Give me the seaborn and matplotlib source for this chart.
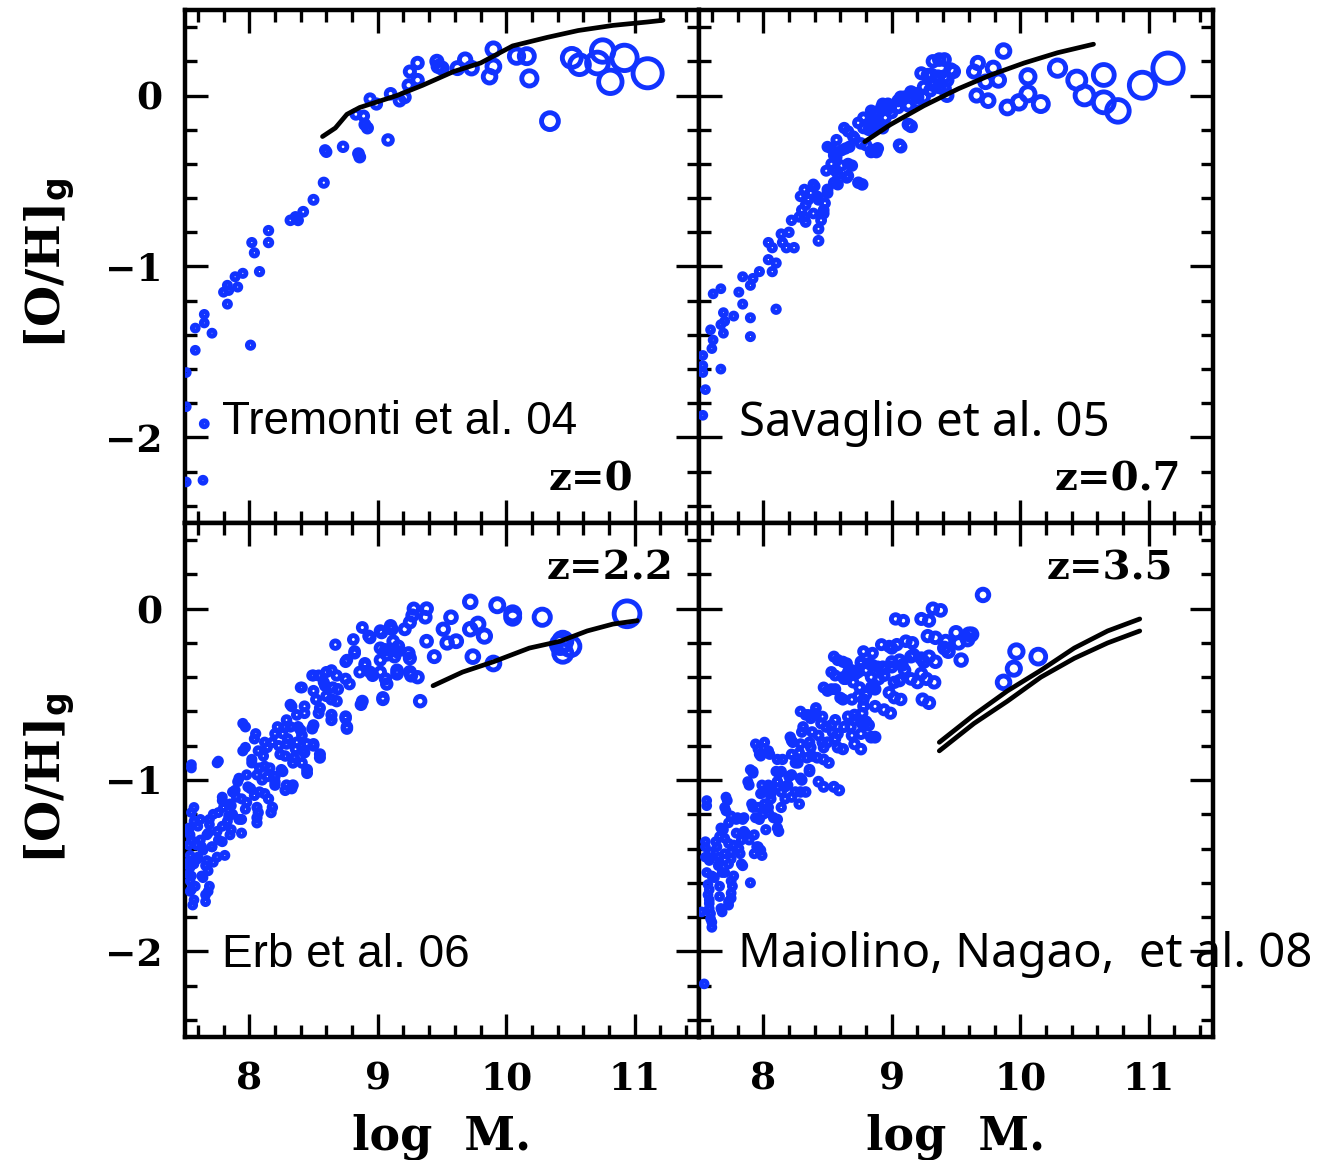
import numpy as np
import pandas as pd
import matplotlib
matplotlib.use("Agg")
import matplotlib.pyplot as plt
from matplotlib.ticker import MultipleLocator
import seaborn as sns

# ---------------- data ----------------
tremonti_pts = [(7.51,-1.62),(7.51,-1.82),(7.65,-1.92),(7.51,-2.26),(7.64,-2.25),(7.58,-1.36),(7.58,-1.49),
    (7.65,-1.28),(7.65,-1.33),(7.71,-1.39),(7.80,-1.15),(7.83,-1.11),(7.84,-1.14),(7.83,-1.22),(7.89,-1.06),
    (7.91,-1.12),(7.95,-1.04),(8.01,-1.46),(8.02,-0.86),(8.04,-0.92),(8.08,-1.03),(8.15,-0.79),(8.15,-0.86),
    (8.32,-0.73),(8.36,-0.71),(8.38,-0.73),(8.42,-0.68),(8.50,-0.61),(8.58,-0.51),(8.59,-0.32),(8.60,-0.33),
    (8.73,-0.30),(8.85,-0.34),(8.86,-0.36),(9.08,-0.26),(8.83,-0.11),(8.89,-0.12),(8.90,-0.17),(8.92,-0.19),
    (8.94,-0.02),(8.99,-0.05),(9.10,0.01),(9.17,-0.03),(9.21,-0.01),(9.24,0.06),(9.25,0.14),(9.31,0.19),
    (9.31,0.09),(9.46,0.20),(9.47,0.17),(9.50,0.16),(9.62,0.16),(9.68,0.21),(9.73,0.16),(9.87,0.11),
    (9.90,0.17),(9.90,0.27),(10.08,0.23),(10.16,0.23),(10.18,0.10),(10.34,-0.15),(10.51,0.22),(10.57,0.18),
    (10.71,0.19),(10.75,0.26),(10.81,0.08),(10.92,0.22),(11.10,0.13)]
tremonti_line_x = [8.57, 8.67, 8.76, 8.86, 9.15, 9.35, 9.59, 9.80, 10.05, 10.32, 10.56, 10.83, 11.10, 11.22]
tremonti_line_y = [-0.24, -0.19, -0.11, -0.07, 0.00, 0.06, 0.14, 0.19, 0.29, 0.34, 0.38, 0.41, 0.43, 0.44]

savaglio_pts = [(9.87,0.26),(9.67,0.19),(9.64,0.14),(9.79,0.16),(9.73,0.08),(9.83,0.09),(9.66,0.00),(9.75,-0.03),
    (9.90,-0.07),(9.99,-0.04),(10.06,0.11),(10.06,0.01),(10.16,-0.05),(10.29,0.16),(10.44,0.09),(10.50,0.00),
    (10.65,0.12),(10.65,-0.04),(10.76,-0.09),(10.95,0.06),(11.15,0.16),
    (9.32,0.20),(9.37,0.21),(9.46,0.15),(9.41,0.11),(9.37,0.05),(9.31,0.12),(9.23,0.13),(9.25,0.05),(9.15,0.02),
    (9.10,-0.01),(9.20,-0.01),(9.05,-0.03),(8.99,-0.07),(9.13,-0.17),(9.06,-0.29),(8.93,-0.05),(8.89,-0.11),
    (8.84,-0.09),(8.78,-0.13),(8.88,-0.16),(8.74,-0.16),(8.82,-0.20),(8.76,-0.28),(8.85,-0.32),(8.63,-0.19),
    (8.70,-0.24),(8.57,-0.26),(8.50,-0.30),(8.64,-0.31),(8.55,-0.35),(8.66,-0.40),(8.53,-0.40),(8.49,-0.44),
    (8.58,-0.46),(8.66,-0.47),(8.74,-0.51),(8.55,-0.51),(8.50,-0.55),(8.39,-0.52),(8.37,-0.57),(8.43,-0.61),
    (8.29,-0.59),(8.33,-0.64),(8.47,-0.67),(8.28,-0.71),(8.33,-0.74),(8.45,-0.73),(8.22,-0.73),(8.43,-0.78),
    (8.43,-0.85),(8.20,-0.80),(8.14,-0.81),(8.15,-0.86),(8.18,-0.89),(8.24,-0.89),(8.04,-0.86),(8.07,-0.89),
    (8.04,-0.96),(8.10,-0.98),(8.07,-1.03),(7.97,-1.03),(7.92,-1.07),(7.84,-1.06),(7.90,-1.11),(7.81,-1.15),
    (7.84,-1.22),(8.10,-1.25),(7.90,-1.30),(7.90,-1.41),(7.77,-1.29),(7.69,-1.27),(7.70,-1.32),(7.67,-1.34),
    (7.69,-1.39),(7.61,-1.16),(7.67,-1.13),(7.59,-1.37),(7.61,-1.43),(7.60,-1.48),(7.67,-1.60),(7.53,-1.52),
    (7.53,-1.58),(7.53,-1.62),(7.55,-1.72),(7.53,-1.87),
    (9.41,0.21),(9.48,0.14),(9.43,0.09),(9.36,0.11),(9.28,0.12),(9.33,0.06),(9.41,0.04),(9.43,0.00),
    (9.30,0.03),(9.25,-0.01),(9.18,0.01),(9.07,-0.01),(9.20,-0.04),(9.13,-0.06),(9.15,-0.18),(9.07,-0.30),
    (9.05,-0.07),(8.97,-0.05),(9.00,-0.10),(8.92,-0.07),(8.95,-0.13),(8.87,-0.10),(8.85,-0.15),(8.90,-0.17),
    (8.93,-0.19),(8.78,-0.19),(8.85,-0.20),(8.80,-0.29),(8.88,-0.33),(8.66,-0.21),(8.71,-0.25),(8.53,-0.31),
    (8.61,-0.32),(8.67,-0.30),(8.57,-0.36),(8.61,-0.41),(8.69,-0.41),(8.56,-0.44),(8.65,-0.48),(8.77,-0.52),
    (8.50,-0.57),(8.58,-0.52),(8.40,-0.53),(8.42,-0.59),(8.48,-0.63),(8.32,-0.55),(8.35,-0.61),(8.30,-0.67),
    (8.39,-0.69),(8.47,-0.69),(8.32,-0.71),(8.84,-0.33),(8.89,-0.31)]
savaglio_line_x = [8.79, 8.99, 9.25, 9.52, 9.77, 10.03, 10.29, 10.57]
savaglio_line_y = [-0.27, -0.17, -0.06, 0.04, 0.12, 0.19, 0.25, 0.30]

erb_pts = [(10.94,-0.03),(10.44,-0.19),(10.50,-0.22),(10.44,-0.26),(10.42,-0.21),(10.28,-0.05),(10.05,-0.05),
    (10.05,-0.03),(9.93,0.02),(9.72,0.04),(9.57,-0.05),(9.78,-0.09),(9.72,-0.12),(9.83,-0.16),(9.61,-0.19),
    (9.74,-0.28),(9.90,-0.32),(9.44,-0.28),(9.38,-0.19),(9.51,-0.12),(9.54,-0.20),(9.33,-0.54),(9.31,-0.40),
    (9.25,-0.37),
    (9.38,0.00),(9.28,0.00),(9.27,-0.04),(9.37,-0.05),(9.25,-0.08),(9.10,-0.10),(9.02,-0.13),(8.88,-0.11),
    (8.94,-0.17),(8.81,-0.18),(9.12,-0.19),(9.02,-0.23),(9.15,-0.25),(9.07,-0.27),(9.25,-0.29),(8.67,-0.21),
    (8.82,-0.25),(8.76,-0.30),(8.90,-0.33),(8.86,-0.37),(9.02,-0.37),(8.96,-0.39),(9.15,-0.36),(9.07,-0.44),
    (9.04,-0.52),(8.88,-0.54),(8.60,-0.37),(8.50,-0.39),(8.68,-0.39),(8.58,-0.43),(8.65,-0.46),(8.78,-0.44),
    (8.40,-0.46),(8.50,-0.48),(8.60,-0.51),(8.68,-0.54),(8.32,-0.56),(8.43,-0.57),(8.55,-0.58),(8.64,-0.62),
    (8.75,-0.63),(8.76,-0.69),(8.37,-0.62),(8.50,-0.68),(8.29,-0.65),(8.22,-0.69),(8.32,-0.69),(8.40,-0.71),
    (8.26,-0.73),(8.18,-0.78),(8.29,-0.79),(8.37,-0.78),(8.45,-0.79),(8.50,-0.79),(8.55,-0.85),(8.42,-0.83),
    (8.35,-0.87),(8.24,-0.85),(8.14,-0.81),(8.11,-0.86),(8.16,-0.93),(8.26,-0.95),(8.08,-0.93),(8.06,-0.97),
    (8.14,-0.98),(8.20,-1.01),(8.29,-1.03),(8.34,-1.03),(8.45,-0.94),(8.02,-0.88),(7.97,-0.81),(7.95,-0.67),
    (8.05,-0.73),(7.98,-0.97),(7.91,-1.01),(8.01,-1.05),(8.08,-1.07),(8.15,-1.11),(8.18,-1.16),(7.87,-1.07),
    (7.90,-1.10),(7.98,-1.13),(8.06,-1.16),(8.06,-1.22),(7.94,-1.23),(7.85,-1.14),(7.80,-1.16),(7.79,-1.10),
    (7.87,-1.20),(7.83,-1.24),(7.76,-0.89),(7.55,-0.91),(7.72,-1.20),(7.69,-1.26),(7.75,-1.30),(7.85,-1.32),
    (7.79,-1.36),(7.67,-1.32),(7.62,-1.35),(7.71,-1.39),(7.64,-1.41),(7.75,-1.45),(7.67,-1.47),(7.60,-1.45),
    (7.57,-1.49),(7.68,-1.53),(7.64,-1.57),(7.69,-1.62),(7.66,-1.67),(7.57,-1.70),(7.54,-1.65),(7.54,-1.59),
    (7.53,-1.55),(7.54,-1.51),(7.53,-1.48),(7.54,-1.44),(7.53,-1.38),(7.54,-1.32),(7.53,-1.28),(7.57,-1.24),
    (7.57,-1.16),(7.62,-1.23),(7.59,-1.38),(7.58,-1.62),
    (8.93,-0.16),(9.03,-0.14),(9.11,-0.12),(9.21,-0.12),(9.06,-0.24),(9.16,-0.22),(9.02,-0.30),(9.13,-0.28),
    (9.24,-0.26),(8.75,-0.31),(8.82,-0.26),(8.90,-0.32),(8.94,-0.37),(9.06,-0.41),(9.15,-0.38),(9.26,-0.39),
    (8.87,-0.56),(9.04,-0.53),(8.75,-0.41),(8.64,-0.36),(8.54,-0.39),(8.49,-0.39),(8.59,-0.45),(8.69,-0.47),
    (8.41,-0.46),(8.52,-0.53),(8.64,-0.53),(8.75,-0.64),(8.76,-0.70),(8.33,-0.57),(8.43,-0.61),(8.54,-0.61),
    (8.64,-0.65),(8.49,-0.70),(7.97,-0.69),(8.28,-0.69),(8.38,-0.69),(8.20,-0.73),(8.30,-0.76),(8.41,-0.74),
    (8.50,-0.80),(8.55,-0.87),(8.12,-0.78),(8.23,-0.80),(8.36,-0.82),(8.43,-0.84),(8.04,-0.76),(7.95,-0.83),
    (8.07,-0.83),(8.28,-0.86),(8.34,-0.90),(8.41,-0.90),(8.45,-0.96),(8.25,-0.94),(8.20,-0.98),(8.12,-0.92),
    (8.02,-0.90),(7.75,-0.90),(7.55,-0.93),(7.92,-0.99),(8.10,-1.00),(7.99,-1.04),(7.89,-1.06),(8.28,-1.06),
    (8.33,-1.05),(8.20,-1.03),(8.12,-1.08),(8.04,-1.09),(7.94,-1.11),(7.79,-1.12),(7.86,-1.15),(7.97,-1.17),
    (8.07,-1.19),(8.17,-1.19),(7.84,-1.21),(7.76,-1.19),(7.69,-1.23),(7.92,-1.23),(8.06,-1.25),(7.55,-1.19),
    (7.79,-1.27),(7.86,-1.29),(7.94,-1.31),(7.60,-1.27),(7.53,-1.29),(7.68,-1.31),(7.76,-1.35),(7.55,-1.35),
    (7.63,-1.39),(7.71,-1.39),(7.81,-1.44),(7.60,-1.46),(7.72,-1.48),(7.54,-1.48),(7.66,-1.50),(7.55,-1.56),
    (7.63,-1.56),(7.68,-1.65),(7.55,-1.64),(7.56,-1.73),(7.66,-1.71)]
erb_line_x = [9.43, 9.66, 9.90, 10.18, 10.42, 10.63, 10.83, 11.02]
erb_line_y = [-0.45, -0.37, -0.31, -0.23, -0.19, -0.13, -0.09, -0.07]

maiolino_pts = [(9.97,-0.25),(10.14,-0.28),(9.95,-0.35),(9.87,-0.43),(9.71,0.08),(9.50,-0.14),(9.60,-0.15),
    (9.54,-0.30),(9.44,-0.25),(9.52,-0.20),(9.28,-0.16),(9.29,-0.28),(9.27,-0.41),(9.24,-0.53),(9.23,-0.38),
    (9.32,0.00),(9.23,-0.06),(9.03,-0.06),(9.11,-0.19),(9.00,-0.23),(8.92,-0.21),(9.00,-0.31),(8.89,-0.34),
    (9.00,-0.34),(8.94,-0.39),(9.02,-0.43),(9.15,-0.41),(9.10,-0.36),(8.78,-0.25),(8.76,-0.31),(8.84,-0.40),
    (8.55,-0.28),(8.62,-0.31),(8.66,-0.37),(8.74,-0.37),(8.63,-0.41),(8.70,-0.43),(8.53,-0.37),(8.47,-0.46),
    (8.53,-0.47),(8.60,-0.52),(8.74,-0.51),(8.84,-0.46),(9.02,-0.52),(8.94,-0.59),(8.78,-0.57),(8.71,-0.62),
    (8.66,-0.63),(8.80,-0.66),(8.76,-0.73),(8.84,-0.75),(8.71,-0.79),(8.58,-0.73),(8.53,-0.68),(8.45,-0.67),
    (8.40,-0.61),(8.37,-0.64),(8.29,-0.60),(8.31,-0.69),(8.43,-0.74),(8.50,-0.78),(8.58,-0.81),(8.47,-0.81),
    (8.37,-0.81),(8.29,-0.79),(8.22,-0.85),(8.27,-0.90),(8.34,-0.87),(8.42,-0.87),(8.47,-0.88),(8.36,-0.95),
    (8.29,-0.99),(8.22,-0.97),(8.14,-0.95),(8.10,-0.95),(8.11,-1.01),(8.19,-1.03),(8.29,-1.07),(8.22,-1.10),
    (8.14,-1.07),(8.06,-1.04),(8.04,-1.03),(8.01,-1.07),(8.06,-1.08),(8.14,-1.16),(8.04,-1.16),(7.96,-1.16),
    (7.91,-1.14),(8.00,-1.20),(8.08,-1.22),(8.11,-1.28),(7.97,-1.23),(7.85,-1.22),(7.80,-1.22),(7.75,-1.21),
    (7.85,-1.30),(7.93,-1.32),(7.96,-1.39),(7.93,-1.43),(7.98,-1.41),(7.83,-1.35),(7.77,-1.38),(7.75,-1.42),
    (7.82,-1.43),(7.83,-1.49),(7.70,-1.34),(7.67,-1.28),(7.63,-1.36),(7.70,-1.43),(7.65,-1.45),(7.73,-1.49),
    (7.59,-1.42),(7.58,-1.47),(7.65,-1.50),(7.70,-1.54),(7.62,-1.57),(7.75,-1.59),(7.75,-1.66),(7.73,-1.71),
    (7.67,-1.75),(7.57,-1.61),(7.57,-1.67),(7.58,-1.72),(7.59,-1.78),(7.60,-1.83),(7.56,-1.54),(7.55,-1.45),
    (7.55,-1.36),(7.56,-1.12),(7.70,-1.16),(7.71,-1.10),(7.88,-1.01),(7.92,-0.95),(7.99,-1.03),(7.90,-0.94),
    (7.94,-0.79),(7.97,-0.85),(8.04,-0.83),(8.11,-0.88),(8.22,-0.77),(8.21,-0.75),(8.43,-1.01),(8.55,-1.04),
    (8.63,-0.69),(8.68,-0.69),(8.77,-0.67),(8.41,-0.58),(8.35,-0.62),(8.93,-0.34),(8.85,-0.33),(8.76,-0.32),
    (8.69,-0.36),(8.62,-0.40),(8.75,-0.46),(8.80,-0.50),(8.87,-0.47),(9.15,-0.28),(9.08,-0.33),(9.23,-0.29),
    (9.25,-0.31),(9.41,-0.23),(9.42,-0.19),(9.59,-0.18),(9.62,-0.15),(7.54,-2.19),(7.52,-1.77),
    (9.38,-0.01),(9.09,-0.07),(9.29,-0.07),(9.34,-0.17),(8.98,-0.22),(9.04,-0.21),(9.16,-0.20),(9.17,-0.27),
    (8.85,-0.26),(8.82,-0.32),(8.94,-0.35),(9.06,-0.30),(9.06,-0.42),(9.20,-0.43),(9.33,-0.43),(9.34,-0.31),
    (9.29,-0.55),(8.58,-0.30),(8.65,-0.32),(8.72,-0.38),(8.80,-0.36),(8.90,-0.41),(8.98,-0.49),(9.07,-0.53),
    (8.99,-0.61),(8.56,-0.39),(8.64,-0.41),(8.50,-0.48),(8.56,-0.47),(8.62,-0.53),(8.69,-0.53),(8.78,-0.53),
    (8.87,-0.57),(8.77,-0.61),(8.82,-0.68),(8.87,-0.75),(8.76,-0.82),(8.69,-0.74),(8.62,-0.82),(8.71,-0.65),
    (8.56,-0.65),(8.46,-0.63),(8.41,-0.62),(8.33,-0.62),(8.49,-0.69),(8.54,-0.72),(8.38,-0.72),(8.30,-0.72),
    (8.23,-0.78),(8.36,-0.78),(8.46,-0.78),(8.56,-0.76),(8.51,-0.90),(8.28,-0.84),(8.38,-0.86),(8.15,-0.88),
    (8.25,-0.90),(8.36,-0.94),(8.12,-0.96),(8.20,-0.98),(8.30,-1.00),(8.11,-1.01),(8.47,-1.04),(8.59,-1.06),
    (8.01,-0.78),(7.96,-0.82),(7.98,-0.86),(8.05,-0.85),(7.92,-0.96),(7.89,-1.03),(7.98,-1.08),(8.07,-1.06),
    (8.17,-1.04),(8.25,-1.07),(8.33,-1.07),(8.28,-1.14),(8.17,-1.11),(8.06,-1.11),(8.01,-1.14),(7.92,-1.16),
    (7.94,-1.22),(8.04,-1.19),(8.11,-1.23),(8.12,-1.30),(8.02,-1.29),(7.84,-1.23),(7.79,-1.23),(7.72,-1.12),
    (7.71,-1.18),(7.73,-1.25),(7.69,-1.29),(7.79,-1.31),(7.86,-1.31),(7.95,-1.39),(7.99,-1.44),(7.89,-1.35),
    (7.81,-1.40),(7.73,-1.37),(7.66,-1.33),(7.64,-1.39),(7.55,-1.39),(7.56,-1.15),(7.58,-1.46),(7.66,-1.48),
    (7.75,-1.46),(7.84,-1.50),(7.77,-1.56),(7.68,-1.54),(7.60,-1.56),(7.76,-1.62),(7.66,-1.62),(7.58,-1.64),
    (7.90,-1.60),(7.75,-1.69),(7.66,-1.68),(7.58,-1.70),(7.73,-1.73),(7.58,-1.75),(7.68,-1.77),(7.59,-1.81),
    (7.60,-1.86)]
maiolino_line1_x = [9.37, 9.64, 9.90, 10.16, 10.42, 10.68, 10.93]
maiolino_line1_y = [-0.78, -0.62, -0.48, -0.36, -0.23, -0.13, -0.06]
maiolino_line2_x = [9.37, 9.64, 9.90, 10.16, 10.42, 10.68, 10.93]
maiolino_line2_y = [-0.83, -0.67, -0.54, -0.40, -0.29, -0.20, -0.13]

survey_labels = ["Tremonti et al. 04", "Savaglio et al. 05", "Erb et al. 06", "Maiolino, Nagao,  et al. 08"]
redshift_labels = ["z=0", "z=0.7", "z=2.2", "z=3.5"]
x_ticks = [8, 9, 10, 11]
y_ticks = [-2, -1, 0]

# ---------------- style ----------------
sns.set_style("ticks")
plt.rcParams["font.family"] = ["DejaVu Serif", "DejaVu Sans"]
for key in ("text.color", "axes.labelcolor", "xtick.color", "ytick.color", "axes.edgecolor"):
    plt.rcParams[key] = "black"
BLUE = "#1133FF"
RING_LW = 3.5

W, H = 1327, 1160
fig = plt.figure(figsize=(W / 100, H / 100), dpi=100)

def fx(px):
    return px / W

def fy(py):
    return 1 - py / H

# panel boxes in pixels: (left, top, right, bottom)
boxes = [(185, 10, 699, 523), (699, 10, 1213, 523), (185, 523, 699, 1037), (699, 523, 1213, 1037)]
axes = []
for (l, t, r, b) in boxes:
    ax = fig.add_axes([fx(l), fy(b), (r - l) / W, (b - t) / H])
    axes.append(ax)

def marker_sizes(xs):
    xs = np.asarray(xs)
    d_px = 9.8 + 0.85 * np.exp(0.93 * (xs - 7.5))     # outer diameter in pixels
    d_pt = d_px * 0.72 - RING_LW                       # path diameter in points
    d_pt = np.clip(d_pt, 0.5, None)
    return d_pt ** 2

def draw_points(ax, pts):
    df = pd.DataFrame(pts, columns=["logM", "OH"])
    sizes = marker_sizes(df["logM"])
    sns.scatterplot(data=df, x="logM", y="OH", ax=ax, s=sizes,
                    color=BLUE, facecolors="none", edgecolor=BLUE, linewidth=RING_LW,
                    legend=False, zorder=3)
    coll = ax.collections[-1]
    coll.set_sizes(sizes)
    coll.set_linewidths(RING_LW)
    coll.set_facecolors("none")
    coll.set_edgecolors(BLUE)

def draw_line(ax, xs, ys):
    df = pd.DataFrame({"logM": xs, "OH": ys})
    sns.lineplot(data=df, x="logM", y="OH", ax=ax, color="black", linewidth=3.4,
                 sort=False, estimator=None, zorder=4)

draw_points(axes[0], tremonti_pts)
draw_line(axes[0], tremonti_line_x, tremonti_line_y)
draw_points(axes[1], savaglio_pts)
draw_line(axes[1], savaglio_line_x, savaglio_line_y)
draw_points(axes[2], erb_pts)
draw_line(axes[2], erb_line_x, erb_line_y)
draw_points(axes[3], maiolino_pts)
draw_line(axes[3], maiolino_line1_x, maiolino_line1_y)
draw_line(axes[3], maiolino_line2_x, maiolino_line2_y)

for i, ax in enumerate(axes):
    ax.set_xlim(7.5, 11.5)
    ax.set_ylim(-2.5, 0.5)
    ax.set_xticks(x_ticks)
    ax.set_yticks(y_ticks)
    ax.xaxis.set_minor_locator(MultipleLocator(0.2))
    ax.yaxis.set_minor_locator(MultipleLocator(0.2))
    ax.tick_params(which="both", direction="in", top=True, right=True, bottom=True, left=True,
                   width=2.4, color="black")
    ax.tick_params(which="major", length=16.5)
    ax.tick_params(which="minor", length=8.5)
    ax.tick_params(axis="x", which="major", pad=17, labelsize=27)
    ax.tick_params(axis="y", which="major", pad=16, labelsize=27)
    for sp in ax.spines.values():
        sp.set_linewidth(3.2)
        sp.set_color("black")
    ax.set_xlabel("")
    ax.set_ylabel("")
    if i in (0, 1):
        ax.tick_params(axis="x", labelbottom=False)
    if i in (1, 3):
        ax.tick_params(axis="y", labelleft=False)
    for lab in ax.get_xticklabels() + ax.get_yticklabels():
        lab.set_fontweight("bold")
        lab.set_family("DejaVu Serif")

# survey labels
sans_fams = [["Liberation Sans"], ["Noto Sans"], ["Liberation Sans"], ["Noto Sans"]]
lab_pos = [(7.79, -1.98), (7.81, -1.99), (7.79, -2.09), (7.80, -2.09)]
lab_size = [33, 34, 33, 34]
for ax, txt, fam, (x, y), fs in zip(axes, survey_labels, sans_fams, lab_pos, lab_size):
    ax.text(x, y, txt, family=fam, fontsize=fs, color="black", ha="left", va="baseline",
            clip_on=False, zorder=5)

# redshift labels
z_pos = [(10.99, -2.31), (11.25, -2.31), (11.30, 0.17), (11.19, 0.17)]
for ax, txt, (x, y) in zip(axes, redshift_labels, z_pos):
    ax.text(x, y, txt, family="DejaVu Serif", fontweight="bold", fontsize=29, color="black",
            ha="right", va="baseline", zorder=5)

# axis titles
for cx in (442, 956):
    fig.text(fx(cx), fy(1137), "log  M.", family="DejaVu Serif", fontweight="bold",
             fontsize=33, ha="center", va="center", color="black")
for cy in (263, 778):
    fig.text(fx(50), fy(cy), r"[O/H]$_\mathbf{g}$", family="DejaVu Serif", fontweight="bold",
             fontsize=34, ha="center", va="center", rotation=90, color="black")

fig.savefig("out.png", dpi=100)
